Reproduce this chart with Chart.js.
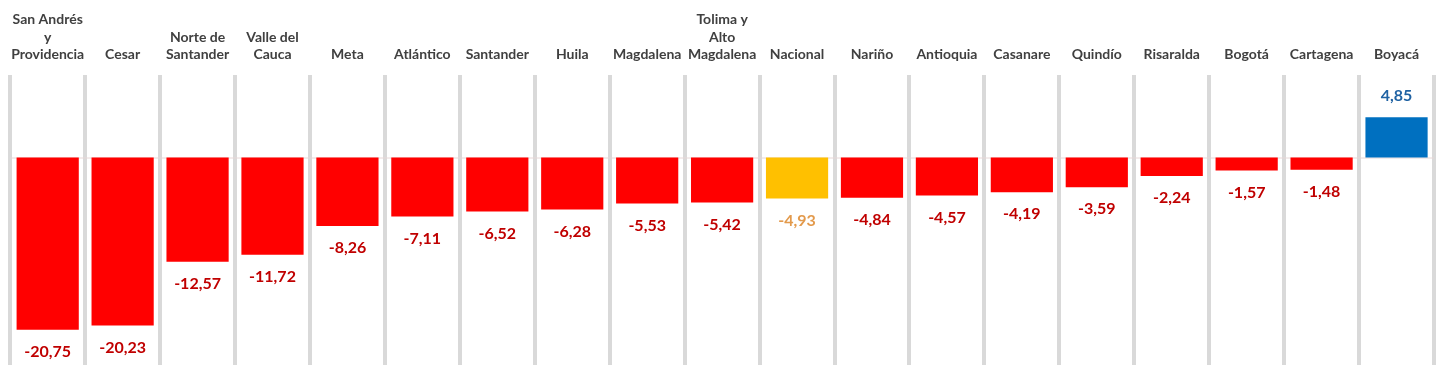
<!DOCTYPE html>
<html>
<head>
<meta charset="utf-8">
<script src="https://cdn.jsdelivr.net/npm/chart.js@4/dist/chart.umd.min.js"></script>
<style>
  html, body { margin: 0; padding: 0; background: #fff; }
  #wrap { width: 1443px; height: 372px; position: relative; }
</style>
</head>
<body>
<div id="wrap"><canvas id="chart"></canvas></div>
<script>
// categories (multi-line labels as arrays)
const categories = [
    ['San Andrés', 'y', 'Providencia'], 'Cesar', ['Norte de', 'Santander'], ['Valle del', 'Cauca'],
    'Meta', 'Atlántico', 'Santander', 'Huila', 'Magdalena', ['Tolima y', 'Alto', 'Magdalena'],
    'Nacional', 'Nariño', 'Antioquia', 'Casanare', 'Quindío', 'Risaralda', 'Bogotá', 'Cartagena', 'Boyacá'
];
const values = [
    -20.75, -20.23, -12.57, -11.72, -8.26, -7.11, -6.52, -6.28, -5.53, -5.42,
    -4.93, -4.84, -4.57, -4.19, -3.59, -2.24, -1.57, -1.48, 4.85
];

const barColor = (v, i) => categories[i] === 'Nacional' ? '#FFC000' : (v > 0 ? '#0070C0' : '#FF0000');
const labelColor = (v, i) => categories[i] === 'Nacional' ? '#E39A4C' : (v > 0 ? '#1F62A3' : '#C00000');

const fmt = (v) => v.toFixed(2).replace('.', ',');

// zero line + value labels
const valueLabels = {
    id: 'valueLabels',
    beforeDatasetsDraw(chart) {
        const { ctx, chartArea, scales } = chart;
        const y0 = scales.y.getPixelForValue(0);
        ctx.save();
        ctx.strokeStyle = '#e6d6d6';
        ctx.lineWidth = 1;
        ctx.beginPath();
        ctx.moveTo(chartArea.left, y0 + 0.5);
        ctx.lineTo(chartArea.right, y0 + 0.5);
        ctx.stroke();
        ctx.restore();
    },
    afterDatasetsDraw(chart) {
        const { ctx } = chart;
        const meta = chart.getDatasetMeta(0);
        ctx.save();
        ctx.font = 'bold 16px Lato';
        ctx.textAlign = 'center';
        ctx.textBaseline = 'middle';
        meta.data.forEach((bar, i) => {
            const v = values[i];
            ctx.fillStyle = labelColor(v, i);
            const y = v < 0 ? bar.y + 22 : bar.y - 21;
            ctx.fillText(fmt(v), bar.x, y);
        });
        ctx.restore();
    }
};

new Chart(document.getElementById('chart'), {
    type: 'bar',
    data: {
        labels: categories,
        datasets: [{
            data: values,
            backgroundColor: values.map(barColor),
            barPercentage: 0.83,
            categoryPercentage: 1
        }]
    },
    options: {
        responsive: true,
        maintainAspectRatio: false,
        animation: false,
        layout: { padding: { left: 6, right: 9, top: 0, bottom: 7 } },
        plugins: { legend: { display: false }, tooltip: { enabled: false } },
        scales: {
            x: {
                position: 'top',
                grid: { offset: true, color: '#d9d9d9', lineWidth: 4, drawTicks: false },
                border: { display: false },
                ticks: {
                    color: '#404040',
                    font: { family: 'Lato', size: 14, weight: 'bold', lineHeight: 1.25 },
                    maxRotation: 0,
                    autoSkip: false,
                    padding: 11
                }
            },
            y: {
                display: false,
                min: -25,
                max: 10
            }
        }
    },
    plugins: [valueLabels]
});
</script>
</body>
</html>
